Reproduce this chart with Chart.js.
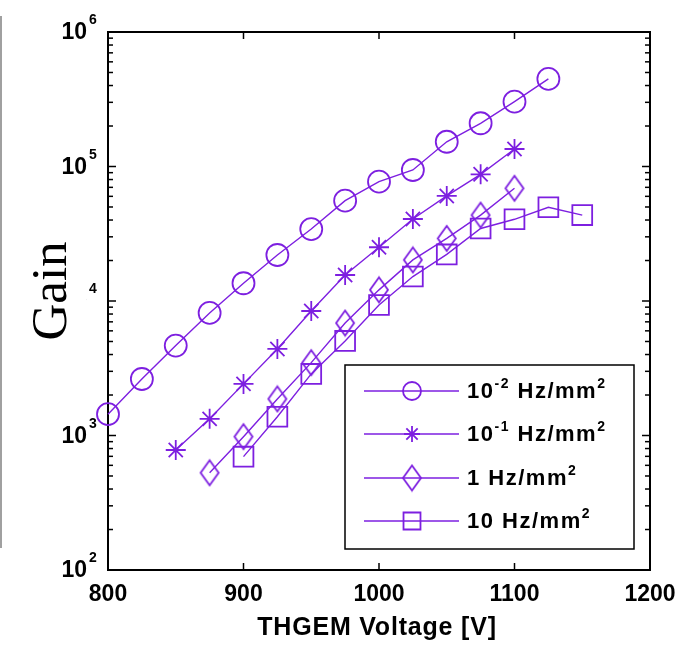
<!DOCTYPE html>
<html>
<head>
<meta charset="utf-8">
<script src="https://cdn.jsdelivr.net/npm/chart.js@4.4.0/dist/chart.umd.min.js"></script>
<style>
    html, body { margin: 0; padding: 0; background: #fff; }
    #wrap { width: 678px; height: 646px; position: relative; }
</style>
</head>
<body>
<div id="wrap"><canvas id="gainChart" width="678" height="646"></canvas></div>
<script>
// THGEM voltage [V] for each series
const voltsA = [800, 825, 850, 875, 900, 925, 950, 975, 1000, 1025, 1050, 1075, 1100, 1125];
const voltsB = [850, 875, 900, 925, 950, 975, 1000, 1025, 1050, 1075, 1100];
const voltsC = [875, 900, 925, 950, 975, 1000, 1025, 1050, 1075, 1100];
const voltsD = [900, 925, 950, 975, 1000, 1025, 1050, 1075, 1100, 1125, 1150];

// Gain
const gainA = [1440, 2630, 4660, 8150, 13550, 21980, 34270, 55700, 77100, 94200, 152700, 209600, 303600, 447800];
const gainB = [780, 1330, 2420, 4400, 8430, 15600, 25100, 40700, 60400, 87500, 134900];
const gainC = [528, 980, 1870, 3480, 6860, 12100, 20200, 29200, 43500, 68900];
const gainD = [696, 1380, 2870, 5050, 9330, 15200, 22200, 34600, 40500, 49800, 43500];

// legend labels: base text + superscript pieces
const seriesLabels = [
    [['10', ''], ['-2', 'sup'], [' Hz/mm', ''], ['2', 'sup']],
    [['10', ''], ['-1', 'sup'], [' Hz/mm', ''], ['2', 'sup']],
    [['1 Hz/mm', ''], ['2', 'sup']],
    [['10 Hz/mm', ''], ['2', 'sup']]
];

const xTicks = [800, 900, 1000, 1100, 1200];
const yDecades = [100, 1000, 10000, 100000, 1000000];
const yExponents = ['2', '3', '4', '5', '6'];

const purple = '#7d1fe0';
const boldFont = '"Liberation Sans", Arial, sans-serif';

function series(xs, ys) {
    return xs.map((x, i) => ({ x: x, y: ys[i] }));
}

function diamondImage(w, h) {
    const c = document.createElement('canvas');
    c.width = w + 4;
    c.height = h + 4;
    const g = c.getContext('2d');
    g.strokeStyle = purple;
    g.lineWidth = 1.8;
    g.beginPath();
    g.moveTo(c.width / 2, 2);
    g.lineTo(c.width - 2, c.height / 2);
    g.lineTo(c.width / 2, c.height - 2);
    g.lineTo(2, c.height / 2);
    g.closePath();
    g.stroke();
    return c;
}

const diamond = diamondImage(18, 25);
const legendRadius = { circle: 9, star: 8, rect: 12 };

function line(ctx, x1, y1, x2, y2) {
    ctx.beginPath();
    ctx.moveTo(x1, y1);
    ctx.lineTo(x2, y2);
    ctx.stroke();
}

// draw "base" + superscript runs, left aligned, vertically centred on y
function drawRich(ctx, parts, x, y, size, supSize, raise) {
    let cx = x;
    parts.forEach(([text, kind]) => {
        if (kind === 'sup') {
            ctx.font = 'bold ' + supSize + 'px ' + boldFont;
            ctx.fillText(text, cx, y - raise);
        } else {
            ctx.font = 'bold ' + size + 'px ' + boldFont;
            ctx.fillText(text, cx, y);
        }
        cx += ctx.measureText(text).width;
    });
}

const axesFrame = {
    id: 'axesFrame',
    beforeDatasetsDraw(chart) {
        const { ctx, chartArea: a, scales: { x, y } } = chart;
        ctx.save();
        ctx.strokeStyle = '#000';
        ctx.lineWidth = 2;
        ctx.strokeRect(a.left, a.top, a.right - a.left, a.bottom - a.top);

        ctx.lineWidth = 1.5;
        xTicks.forEach(v => {
            const px = x.getPixelForValue(v);
            line(ctx, px, a.bottom, px, a.bottom - 7);
            line(ctx, px, a.top, px, a.top + 7);
        });
        yDecades.forEach(d => {
            for (let k = 1; k <= 9; k++) {
                const v = d * k;
                if (v > y.max) break;
                const py = y.getPixelForValue(v);
                const len = k === 1 ? 8 : 5;
                line(ctx, a.left, py, a.left + len, py);
                line(ctx, a.right, py, a.right - len, py);
            }
        });
        ctx.restore();
    },
    afterDraw(chart) {
        const { ctx, chartArea: a, scales: { x, y } } = chart;
        ctx.save();
        ctx.fillStyle = '#000';

        // x tick labels
        ctx.font = 'bold 23px ' + boldFont;
        ctx.textAlign = 'center';
        ctx.textBaseline = 'middle';
        xTicks.forEach(v => {
            ctx.fillText(String(v), x.getPixelForValue(v), a.bottom + 25);
        });

        // x title
        ctx.font = 'bold 25px ' + boldFont;
        ctx.letterSpacing = '0.8px';
        ctx.fillText('THGEM Voltage [V]', (a.left + a.right) / 2 - 2, a.bottom + 58);
        ctx.letterSpacing = '0px';

        // y tick labels 10^n
        yDecades.forEach((d, i) => {
            const py = y.getPixelForValue(d);
            ctx.textAlign = 'right';
            ctx.textBaseline = 'middle';
            ctx.font = 'bold 23px ' + boldFont;
            ctx.fillText('10', 87, py + 1);
            ctx.textAlign = 'left';
            ctx.textBaseline = 'alphabetic';
            ctx.font = 'bold 14px ' + boldFont;
            ctx.fillText(yExponents[i], 89, py - 8);
        });

        // y title, painted over a white box like the original
        ctx.fillStyle = '#fff';
        ctx.fillRect(24, 240, 62, 104);
        ctx.save();
        ctx.translate(66, 291);
        ctx.rotate(-Math.PI / 2);
        ctx.fillStyle = '#000';
        ctx.font = '51px "Liberation Serif", "Times New Roman", serif';
        ctx.textAlign = 'center';
        ctx.textBaseline = 'alphabetic';
        ctx.fillText('Gain', 0, 0);
        ctx.restore();

        // grey rule on the far left
        ctx.strokeStyle = '#a0a0a0';
        ctx.lineWidth = 2;
        line(ctx, 1, 16, 1, 548);

        // legend
        const box = { left: 345, top: 365, right: 634, bottom: 549 };
        ctx.fillStyle = '#fff';
        ctx.fillRect(box.left, box.top, box.right - box.left, box.bottom - box.top);
        ctx.strokeStyle = '#000';
        ctx.lineWidth = 1.5;
        ctx.strokeRect(box.left, box.top, box.right - box.left, box.bottom - box.top);

        const rows = [391, 434, 478, 521];
        chart.data.datasets.forEach((ds, i) => {
            const ry = rows[i];
            ctx.strokeStyle = purple;
            ctx.lineWidth = 1.4;
            line(ctx, 364, ry, 459, ry);
            ctx.lineWidth = 1.8;
            if (ds.pointStyle === diamond) {
                ctx.drawImage(diamond, 412 - diamond.width / 2, ry - diamond.height / 2);
            } else {
                ctx.fillStyle = 'rgba(0,0,0,0)';
                Chart.helpers.drawPoint(ctx, {
                    pointStyle: ds.pointStyle,
                    radius: legendRadius[ds.pointStyle],
                    rotation: 0,
                    borderWidth: 1.8
                }, 412, ry);
            }
            ctx.fillStyle = '#000';
            ctx.textAlign = 'left';
            ctx.textBaseline = 'middle';
            ctx.letterSpacing = '1.5px';
            drawRich(ctx, seriesLabels[i], 467, ry + 1, 22, 14, 8);
            ctx.letterSpacing = '0px';
        });
        ctx.restore();
    }
};

function makeDataset(label, xs, ys, style, radius) {
    return {
        label: label,
        data: series(xs, ys),
        borderColor: purple,
        borderWidth: 1.4,
        fill: false,
        tension: 0,
        clip: false,
        pointStyle: style,
        pointRadius: radius,
        pointHoverRadius: radius,
        pointBorderColor: purple,
        pointBackgroundColor: 'rgba(0,0,0,0)',
        pointBorderWidth: 1.8
    };
}

const ctx = document.getElementById('gainChart').getContext('2d');
const gainChart = new Chart(ctx, {
    type: 'line',
    data: {
        datasets: [
            makeDataset('10^-2 Hz/mm^2', voltsA, gainA, 'circle', 11),
            makeDataset('10^-1 Hz/mm^2', voltsB, gainB, 'star', 10),
            makeDataset('1 Hz/mm^2', voltsC, gainC, diamond, 12),
            makeDataset('10 Hz/mm^2', voltsD, gainD, 'rect', 14)
        ]
    },
    options: {
        responsive: false,
        animation: false,
        layout: {
            padding: { left: 108, right: 28, top: 32, bottom: 76 }
        },
        plugins: {
            legend: { display: false },
            tooltip: { enabled: false }
        },
        scales: {
            x: { type: 'linear', min: 800, max: 1200, display: false },
            y: { type: 'logarithmic', min: 100, max: 1000000, display: false }
        }
    },
    plugins: [axesFrame]
});
</script>
</body>
</html>
